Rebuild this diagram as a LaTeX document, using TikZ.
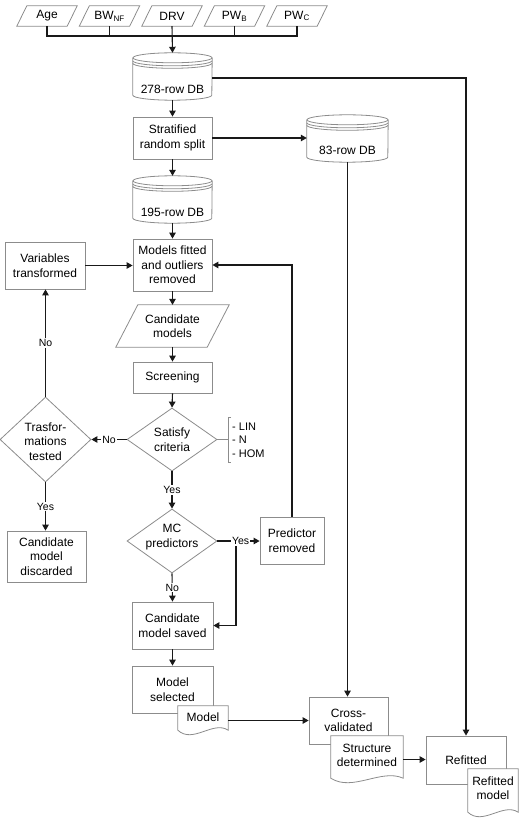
\documentclass[tikz,border=0pt]{standalone}
\usepackage{fontspec}
\setmainfont{Liberation Sans}
\usetikzlibrary{shapes.geometric,arrows.meta,calc}
\definecolor{boxgray}{RGB}{140,140,140}
\definecolor{linek}{RGB}{25,25,25}
\newcommand\fsmain{\fontsize{12}{14.5}\selectfont}
\newcommand\fslab{\fontsize{10.5}{12}\selectfont}
\newcommand\fscrit{\fontsize{11}{13.5}\selectfont}
\tikzset{
  boxline/.style={draw=boxgray, line width=0.8pt},
  box/.style={boxline, fill=white, inner sep=1pt, align=center, font=\fsmain},
  ghost/.style={inner sep=0pt, align=center, font=\fsmain},
  txt/.style={inner sep=0pt, align=center, font=\fsmain},
  inp/.style={ghost, minimum width=50pt, minimum height=20pt},
  dia/.style={diamond, boxline, fill=white, inner sep=0pt, minimum width=90pt, minimum height=63pt},
  conn/.style={draw=linek, line width=1.1pt},
  arr/.style={conn, -{Triangle[length=6pt,width=6.5pt]}},
  lab/.style={fill=white, inner sep=1pt, font=\fslab},
}
\newcommand\mypara[2]{\draw[boxline] ([xshift=#2]#1.north west) -- ([xshift=#2]#1.north east) -- ([xshift=-#2]#1.south east) -- ([xshift=-#2]#1.south west) -- cycle;}
\newcommand\dbshape[2]{%
  \draw[boxline] ([yshift=-5pt]#1.north) ellipse [x radius=#2, y radius=5pt];
  \draw[boxline] ([yshift=-5pt]#1.north west) -- ([yshift=5pt]#1.south west) arc[start angle=180, end angle=360, x radius=#2, y radius=5pt] -- ([yshift=-5pt]#1.north east);
  \draw[boxline] ([yshift=-8pt]#1.north west) arc[start angle=180, end angle=360, x radius=#2, y radius=5pt];
  \draw[boxline] ([yshift=-10.5pt]#1.north west) arc[start angle=180, end angle=360, x radius=#2, y radius=5pt];}
\newcommand\docshape[1]{\draw[boxline, fill=white] (#1.north west) -- (#1.north east) -- ([yshift=5pt]#1.south east) .. controls ($(#1.south west)!0.7!(#1.south east)+(0pt,15pt)$) and ($(#1.south west)!0.3!(#1.south east)+(0pt,-9pt)$) .. ([yshift=5pt]#1.south west) -- cycle;}
\begin{document}
\begin{tikzpicture}[x=1pt,y=-1pt]
\useasboundingbox (0,0) rectangle (524,818);
% inputs
\node[inp] (in1) at (47,16) {Age};
\node[inp] (in2) at (109.5,16) {BW\textsubscript{NF}};
\node[inp] (in3) at (172,16) {DRV};
\node[inp] (in4) at (234.5,16) {PW\textsubscript{B}};
\node[inp] (in5) at (297,16) {PW\textsubscript{C}};
\foreach \n in {in1,in2,in3,in4,in5} {\mypara{\n}{5pt}}
\coordinate (bus) at (172,36);
\draw[conn] (in1.south) |- (bus) -| (in5.south);
\draw[conn] (in2.south) -- (in2.south |- bus);
\draw[conn] (in4.south) -- (in4.south |- bus);

% databases
\node[ghost, minimum width=79pt, minimum height=47pt] (db1) at (172.5,76.5) {};
\dbshape{db1}{39.5pt}
\node[txt] (db1t) at ([yshift=-12.5pt]db1.center) {278-row DB};
\node[box, minimum width=79pt, minimum height=42pt] (split) at (172.5,138) {Stratified\\random split};
\node[ghost, minimum width=81pt, minimum height=47pt] (db2) at (347.5,138.5) {};
\dbshape{db2}{40.5pt}
\node[txt] (db2t) at ([yshift=-12pt]db2.center) {83-row DB};
\node[ghost, minimum width=79pt, minimum height=47pt] (db3) at (172.5,199.5) {};
\dbshape{db3}{39.5pt}
\node[txt] (db3t) at ([yshift=-12.5pt]db3.center) {195-row DB};

% model loop
\node[box, minimum width=79pt, minimum height=52pt] (fit) at (172.5,265) {Models fitted\\and outliers\\removed};
\node[box, minimum width=80pt, minimum height=47pt] (var) at (45,265.5) {Variables\\transformed};
\node[ghost, minimum width=91pt, minimum height=42pt] (cand) at (172.5,326) {Candidate\\models};
\mypara{cand}{11pt}
\node[box, minimum width=79pt, minimum height=31pt] (screen) at (172.5,377.5) {Screening};
\node[dia, label={[txt]center:Satisfy\\criteria}] (sat) at (172,439.5) {};
\node[dia, minimum width=91pt, minimum height=85pt, label={[txt,yshift=-2pt]center:Trasfor-\\mations\\tested}] (trans) at (45.5,439.5) {};
\node[box, minimum width=79pt, minimum height=51pt] (disc) at (46.5,556.5) {Candidate\\model\\discarded};
\node[dia, minimum height=64pt, label={[txt,yshift=4pt]center:MC\\predictors}] (mc) at (172,541) {};
\node[box, minimum width=64pt, minimum height=47pt] (pred) at (292,540.5) {Predictor\\removed};
\node[box, minimum width=81pt, minimum height=47pt] (saved) at (172.5,625.5) {Candidate\\model saved};
\node[box, minimum width=81pt, minimum height=47pt] (sel) at (172.5,689.5) {Model\\selected};
\node[ghost, minimum width=50pt, minimum height=29pt] (mdoc) at (203,720.5) {};
\docshape{mdoc}
\node[txt] (mdoct) at ([yshift=3.5pt]mdoc.center) {Model};
\node[box, minimum width=79pt, minimum height=47pt] (cv) at (348.5,720.5) {Cross-\\validated};
\node[ghost, minimum width=72pt, minimum height=47pt] (sdoc) at (367,759.5) {};
\docshape{sdoc}
\node[txt] (sdoct) at ([yshift=4pt]sdoc.center) {Structure\\determined};
\node[box, minimum width=80pt, minimum height=48pt] (refit) at (466,760) {Refitted};
\node[ghost, minimum width=50pt, minimum height=48pt] (rdoc) at (493,793) {};
\docshape{rdoc}
\node[txt] (rdoct) at ([yshift=5pt]rdoc.center) {Refitted\\model};

% criteria bracket
\coordinate (brk) at (228,439.5);
\draw[boxline] (sat.east) -- (brk);
\draw[boxline] (231,417) -- (228,417) -- (228,462) -- (231,462);
\node[inner sep=1pt, align=left, font=\fscrit, anchor=west] (crit) at (231,440) {- LIN\\- N\\- HOM};

% connectors
\draw[arr] (in3.south) -- (db1.north);
\draw[arr] ([yshift=-1.5pt]db1.east) -| (refit.north);
\draw[arr] (db1.south) -- (split.north);
\draw[arr] (split.east) -- (split.east -| db2.west);
\draw[arr] (db2.south) -- (db2.south |- cv.north);
\draw[arr] (split.south) -- (db3.north);
\draw[arr] (db3.south) -- (fit.north);
\draw[arr] (var.east) -- (var.east -| fit.west);
\draw[arr] (fit.south) -- (cand.north);
\draw[arr] (cand.south) -- (screen.north);
\draw[arr] (screen.south) -- (sat.north);
\draw[arr] (sat.west) -- node[lab] {No} (trans.east);
\draw[arr] (trans.north) -- node[lab] {No} (trans.north |- var.south);
\draw[arr] (trans.south) -- node[lab] {Yes} (trans.south |- disc.north);
\draw[arr] (sat.south) -- node[lab] {Yes} (mc.north);
\coordinate (br) at (236,0 |- mc.east);
\draw[arr] (br) |- (saved.east);
\draw[arr] (mc.east) -- node[lab, pos=0.55] {Yes} (mc.east -| pred.west);
\draw[arr] (pred.north) |- (fit.east);
\draw[arr] (mc.south) -- node[lab] {No} (saved.north);
\draw[arr] (saved.south) -- (sel.north);
\draw[arr] (mdoc.east) -- (mdoc.east -| cv.west);
\draw[arr] (sdoc.east) -- (sdoc.east -| refit.west);
\end{tikzpicture}
\end{document}
